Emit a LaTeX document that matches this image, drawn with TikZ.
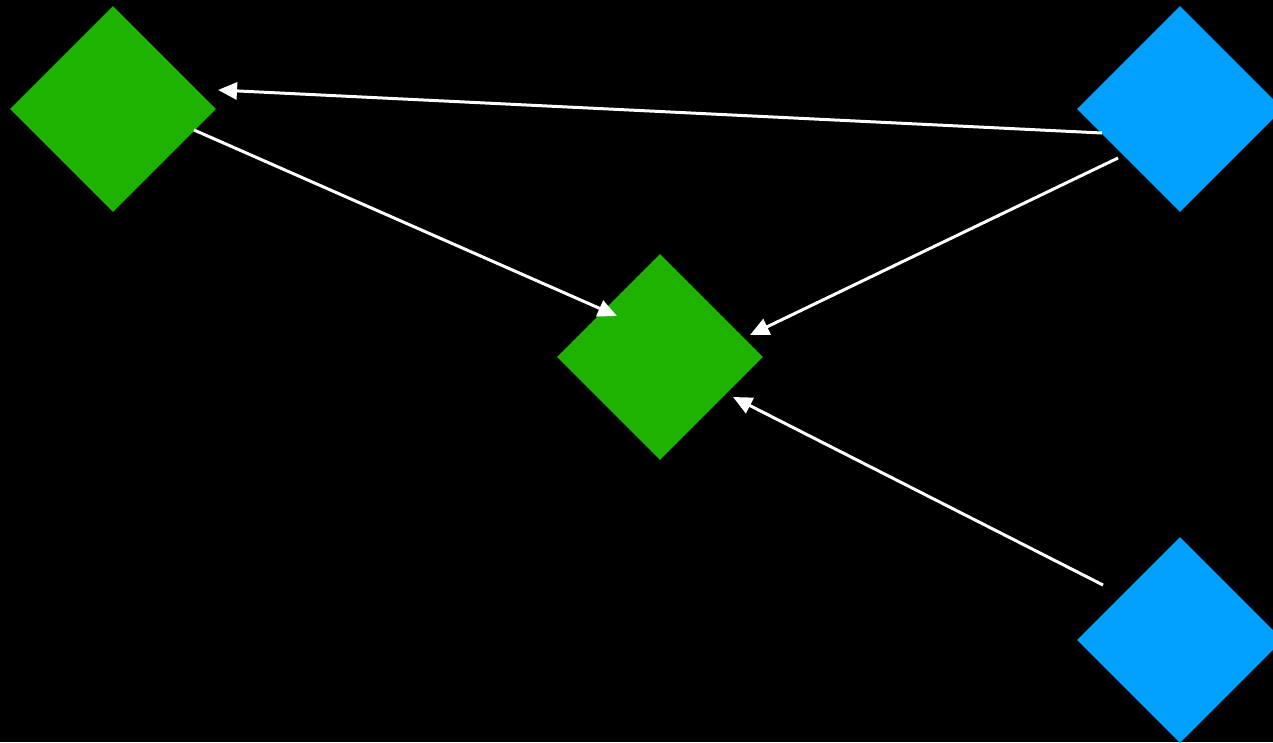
\documentclass[tikz,border=0pt]{standalone}
\usepackage{xcolor}
\usetikzlibrary{arrows.meta, shapes.geometric}
\definecolor{leafgreen}{RGB}{30,179,0}
\definecolor{skyblue}{RGB}{0,160,255}
\tikzset{
  gem/.style={diamond, aspect=1, inner sep=0pt, minimum width=206pt, minimum height=206pt, draw=none},
  greengem/.style={gem, fill=leafgreen},
  bluegem/.style={gem, fill=skyblue},
  arrow/.style={-{Triangle[length=19pt, width=17pt]}, line width=3pt, white}
}
\begin{document}
\begin{tikzpicture}[x=1pt, y=-1pt]
    \fill[black] (0,0) rectangle (1273,742);
    \useasboundingbox (0,0) rectangle (1273,742);
    \clip (0,0) rectangle (1273,742);
    \node[greengem] (left) at (113,109) {};
    \node[greengem] (mid) at (660,357) {};
    \node[bluegem] (topright) at (1180,109) {};
    \node[bluegem] (botright) at (1180,640) {};

    \draw[arrow] ([shift={(-78,24)}]topright.center) -- ([shift={(105,-19)}]left.center);
    \draw[arrow] ([shift={(81,21)}]left.center) -- ([shift={(-43,-41)}]mid.center);
    \draw[arrow] ([shift={(-62,49)}]topright.center) -- ([shift={(90,-22)}]mid.center);
    \draw[arrow] ([shift={(-77,-55)}]botright.center) -- ([shift={(73,40)}]mid.center);
\end{tikzpicture}
\end{document}
